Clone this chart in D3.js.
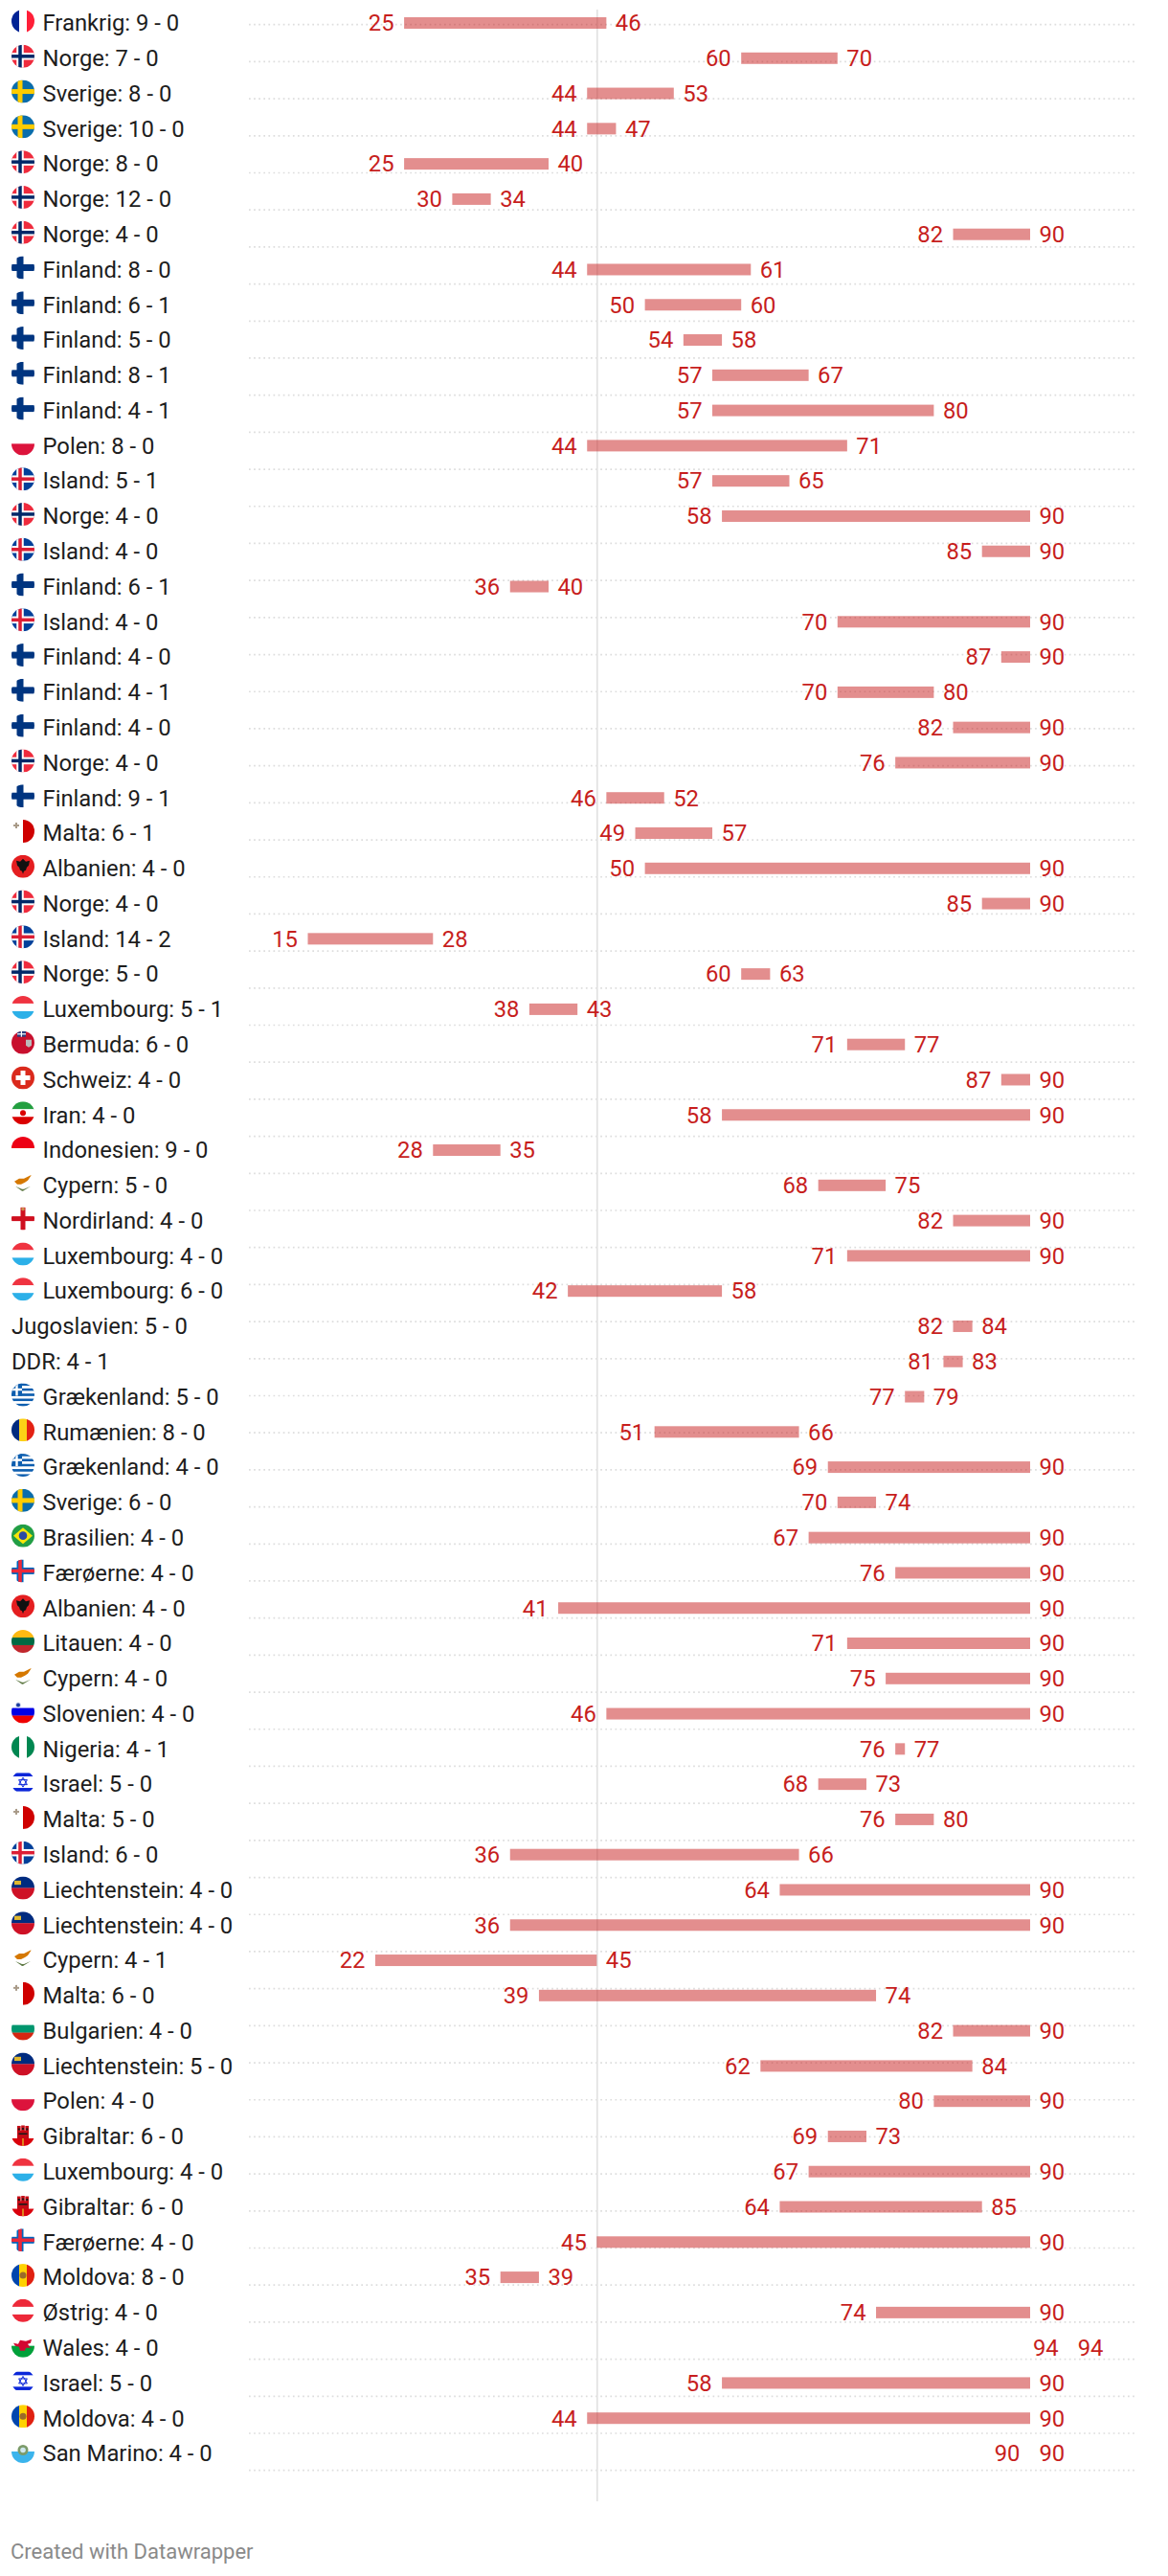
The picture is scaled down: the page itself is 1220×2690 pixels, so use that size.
<!DOCTYPE html>
<html><head><meta charset="utf-8">
<script src="https://cdn.jsdelivr.net/npm/d3@7"></script>
<style>html,body{margin:0;padding:0;background:#fff}svg{display:block}text{font-family:Roboto,sans-serif}</style>
</head><body><div id="c"></div>
<script>
const teams=["Frankrig","Norge","Sverige","Sverige","Norge","Norge","Norge","Finland","Finland","Finland","Finland","Finland","Polen","Island","Norge","Island","Finland","Island","Finland","Finland","Finland","Norge","Finland","Malta","Albanien","Norge","Island","Norge","Luxembourg","Bermuda","Schweiz","Iran","Indonesien","Cypern","Nordirland","Luxembourg","Luxembourg","Jugoslavien","DDR","Grækenland","Rumænien","Grækenland","Sverige","Brasilien","Færøerne","Albanien","Litauen","Cypern","Slovenien","Nigeria","Israel","Malta","Island","Liechtenstein","Liechtenstein","Cypern","Malta","Bulgarien","Liechtenstein","Polen","Gibraltar","Luxembourg","Gibraltar","Færøerne","Moldova","Østrig","Wales","Israel","Moldova","San Marino"];
const scores=["9 - 0","7 - 0","8 - 0","10 - 0","8 - 0","12 - 0","4 - 0","8 - 0","6 - 1","5 - 0","8 - 1","4 - 1","8 - 0","5 - 1","4 - 0","4 - 0","6 - 1","4 - 0","4 - 0","4 - 1","4 - 0","4 - 0","9 - 1","6 - 1","4 - 0","4 - 0","14 - 2","5 - 0","5 - 1","6 - 0","4 - 0","4 - 0","9 - 0","5 - 0","4 - 0","4 - 0","6 - 0","5 - 0","4 - 1","5 - 0","8 - 0","4 - 0","6 - 0","4 - 0","4 - 0","4 - 0","4 - 0","4 - 0","4 - 0","4 - 1","5 - 0","5 - 0","6 - 0","4 - 0","4 - 0","4 - 1","6 - 0","4 - 0","5 - 0","4 - 0","6 - 0","4 - 0","6 - 0","4 - 0","8 - 0","4 - 0","4 - 0","5 - 0","4 - 0","4 - 0"];
const firstGoal=[25,60,44,44,25,30,82,44,50,54,57,57,44,57,58,85,36,70,87,70,82,76,46,49,50,85,15,60,38,71,87,58,28,68,82,71,42,82,81,77,51,69,70,67,76,41,71,75,46,76,68,76,36,64,36,22,39,82,62,80,69,67,64,45,35,74,94,58,44,90];
const lastGoal=[46,70,53,47,40,34,90,61,60,58,67,80,71,65,90,90,40,90,90,80,90,90,52,57,90,90,28,63,43,77,90,90,35,75,90,90,58,84,83,79,66,90,74,90,90,90,90,90,90,77,73,80,66,90,90,45,74,90,84,90,73,90,85,90,39,90,94,90,90,90];
const W=1220,H=2690,RED="#c71e1d";
const svg=d3.select("#c").append("svg").attr("width",W).attr("height",H);
const x=d3.scaleLinear().domain([0,90]).range([170.6,1076]);
const y=d3.scalePoint().domain(d3.range(teams.length)).range([24,2562]);
const gridRows=d3.range(67);
const yGrid=d3.scaleLinear().domain([0,66]).range([25.7,2579.7]);
const defs=svg.append("defs");
defs.append("clipPath").attr("id","flagclip").append("circle").attr("r",12);

function rect(g,c,a,b,w,h){g.append("rect").attr("x",a).attr("y",b).attr("width",w).attr("height",h).attr("fill",c);}
function hs(g,cs){const h=24/cs.length;cs.forEach((c,i)=>rect(g,c,-12,-12+i*h,24,h+.2));}
function vs(g,cs){const h=24/cs.length;cs.forEach((c,i)=>rect(g,c,-12+i*h,-12,h+.2,24));}
function nordic(g,bg,outer,inner,ow,iw){const cx=-3;rect(g,bg,-12,-12,24,24);rect(g,outer,-12,-ow/2,24,ow);rect(g,outer,cx-ow/2,-12,ow,24);if(inner){rect(g,inner,-12,-iw/2,24,iw);rect(g,inner,cx-iw/2,-12,iw,24);}}
function emblem(g,c,r,cx=0,cy=0){g.append("circle").attr("cx",cx).attr("cy",cy).attr("r",r).attr("fill",c);}
function path(g,c,d){g.append("path").attr("d",d).attr("fill",c);}
const flagDraw={
 Frankrig:g=>vs(g,["#002395","#fff","#ff1f38"]),
 Norge:g=>nordic(g,"#ef2b3d","#fff","#002868",7.5,3.5),
 Sverige:g=>nordic(g,"#0a6dab","#fecc00",null,5),
 Finland:g=>nordic(g,"#fff","#003580",null,7),
 Polen:g=>hs(g,["#fff","#dc143c"]),
 Island:g=>nordic(g,"#02409a","#fff","#dc1e35",7.5,3.5),
 Malta:g=>{vs(g,["#fff","#cf0000"]);rect(g,"#a89a88",-10,-7,6,2);rect(g,"#a89a88",-8,-9,2,6);},
 Albanien:g=>{rect(g,"#e41e20",-12,-12,24,24);path(g,"#111","M0-8 3-5 7-6 6-1 4 1 3 4 1 5 0 8-1 5-3 4-4 1-6-1-7-6-3-5Z");},
 Luxembourg:g=>hs(g,["#ef3340","#fff","#2cb0e8"]),
 Bermuda:g=>{rect(g,"#c8102e",-12,-12,24,24);rect(g,"#2b3f80",-6,-12,9,6);rect(g,"#fff",-6,-9.5,9,1.2);rect(g,"#fff",-2.2,-12,1.2,6);path(g,"#bbb","M3-3h6v6l-3 2-3-2Z");},
 Schweiz:g=>{rect(g,"#da291c",-12,-12,24,24);rect(g,"#fff",-7.5,-2.5,15,5);rect(g,"#fff",-2.5,-7.5,5,15);},
 Iran:g=>{hs(g,["#239f40","#fff","#da0000"]);emblem(g,"#da0000",3);},
 Indonesien:g=>hs(g,["#ed0015","#fff"]),
 Cypern:g=>{path(g,"#d57800","M-9-2-4-5 1-5 9-9 5-3 2-1-2 1-6 1Z");path(g,"#5f7a45","M-8 3-1 8 0 8 8 3 1 6 0 6-1 6Z");},
 Nordirland:g=>{rect(g,"#fff",-12,-12,24,24);rect(g,"#cf0f1f",-12,-2.5,24,5);rect(g,"#cf0f1f",-2.5,-12,5,24);emblem(g,"#cc8f4d",1.8,0,-10);},
 Grækenland:g=>{hs(g,["#0d5eaf","#fff","#0d5eaf","#fff","#0d5eaf","#fff","#0d5eaf","#fff","#0d5eaf"]);rect(g,"#0d5eaf",-12,-12,11,13);rect(g,"#fff",-7.7,-12,2.4,13);rect(g,"#fff",-12,-6.7,11,2.4);},
 Rumænien:g=>vs(g,["#002b7f","#fcd116","#e32113"]),
 Brasilien:g=>{rect(g,"#229e45",-12,-12,24,24);path(g,"#f8e509","M0-8.5 10 0 0 8.5-10 0Z");emblem(g,"#2b49a3",4.3);},
 Færøerne:g=>nordic(g,"#fff","#0065bd","#ed2939",7,3.6),
 Litauen:g=>hs(g,["#fdb913","#006a44","#c1272d"]),
 Slovenien:g=>{hs(g,["#fff","#0000e6","#ef0000"]);emblem(g,"#d8dcf0",3,-5,-7);emblem(g,"#1a3c9e",2,-5,-7);},
 Nigeria:g=>vs(g,["#008751","#fff","#008751"]),
 Israel:g=>{rect(g,"#fff",-12,-12,24,24);rect(g,"#0a26d9",-12,-9.7,24,3.6);rect(g,"#0a26d9",-12,5.9,24,3.6);
   g.append("path").attr("d","M0-5 4.4 2.5H-4.4ZM0 5-4.4-2.5H4.4Z").attr("fill","none").attr("stroke","#0a26d9").attr("stroke-width",1);},
 Liechtenstein:g=>{hs(g,["#002b7f","#ce1126"]);rect(g,"#e0b830",-9,-7.6,7,4.3);},
 Bulgarien:g=>hs(g,["#fff","#00966e","#d62612"]),
 Gibraltar:g=>{rect(g,"#fff",-12,-12,24,24);rect(g,"#da000c",-12,4,24,8);
   rect(g,"#c50a14",-6,-4,12,8.5);rect(g,"#c50a14",-6,-9,3.6,6);rect(g,"#c50a14",-1.8,-9.5,3.6,6);rect(g,"#c50a14",2.4,-9,3.6,6);
   rect(g,"#1a1a1a",-5.2,-6.5,2,2);rect(g,"#1a1a1a",-1,-7,2,2);rect(g,"#1a1a1a",3.2,-6.5,2,2);rect(g,"#1a1a1a",-4.5,-1.5,9,1.6);
   rect(g,"#e0a020",-.8,4,1.6,8);},
 Moldova:g=>{vs(g,["#0046ae","#ffd200","#e02010"]);emblem(g,"#9a6a2a",3.5);},
 Østrig:g=>hs(g,["#ed2939","#fff","#ed2939"]),
 Wales:g=>{hs(g,["#fff","#00a03a"]);path(g,"#d30731","M-10-3-5-2-3-6 3-5 9-7 8-3 5-2 7 1 9 2 3 2 2 5-3 5-4 1-8 0Z");},
 "San Marino":g=>{hs(g,["#fff","#3cb4ec"]);emblem(g,"#7c9b6a",5.5,0,-1.5);emblem(g,"#cfe7ef",2.8,0,-1.5);}
};

const xGrid0=260,xGrid1=1186;
const root=svg.append("g");
root.selectAll("line.grid").data(gridRows).join("line").attr("class","grid")
 .attr("x1",xGrid0).attr("x2",xGrid1)
 .attr("y1",d=>yGrid(d)).attr("y2",d=>yGrid(d))
 .attr("stroke","#dddddd").attr("stroke-width",1.7).attr("stroke-dasharray","1.7 3.4");
root.append("line").attr("x1",x(45)+.5).attr("x2",x(45)+.5).attr("y1",10).attr("y2",2612).attr("stroke","#e2e2e2").attr("stroke-width",1.7);
root.selectAll("rect.bar").data(teams).join("rect").attr("class","bar")
 .attr("x",(d,i)=>x(firstGoal[i])).attr("width",(d,i)=>x(Math.min(lastGoal[i],90))-x(Math.min(firstGoal[i],lastGoal[i])))
 .attr("y",(d,i)=>y(i)-6).attr("height",12).attr("fill",RED).attr("fill-opacity",.5);
const fs=23.8;
root.selectAll("text.lo").data(teams).join("text").attr("class","lo")
 .attr("x",(d,i)=>x(firstGoal[i])-10.5).attr("y",(d,i)=>y(i)+8.3).attr("text-anchor","end")
 .attr("font-size",fs).attr("fill",RED).text((d,i)=>firstGoal[i]);
root.selectAll("text.hi").data(teams).join("text").attr("class","hi")
 .attr("x",(d,i)=>x(lastGoal[i])+9.5).attr("y",(d,i)=>y(i)+8.3)
 .attr("font-size",fs).attr("fill",RED).text((d,i)=>lastGoal[i]);
root.selectAll("text.lab").data(teams).join("text").attr("class","lab")
 .attr("x",d=>flagDraw[d]?44.5:12).attr("y",(d,i)=>y(i)+8.3)
 .attr("font-size",fs).attr("fill","#1d1d1d").text((d,i)=>d+": "+scores[i]);
root.selectAll("g.flag").data(teams).join("g").attr("class","flag")
 .attr("transform",(d,i)=>`translate(24,${y(i)-2})`).each(function(d){
   const f=flagDraw[d]; if(!f) return;
   const g=d3.select(this).append("g").attr("clip-path","url(#flagclip)"); f(g);
 });
svg.append("text").attr("x",11).attr("y",2671.5).attr("font-size",22).attr("fill","#8a8a8a").text("Created with Datawrapper");
</script></body></html>
